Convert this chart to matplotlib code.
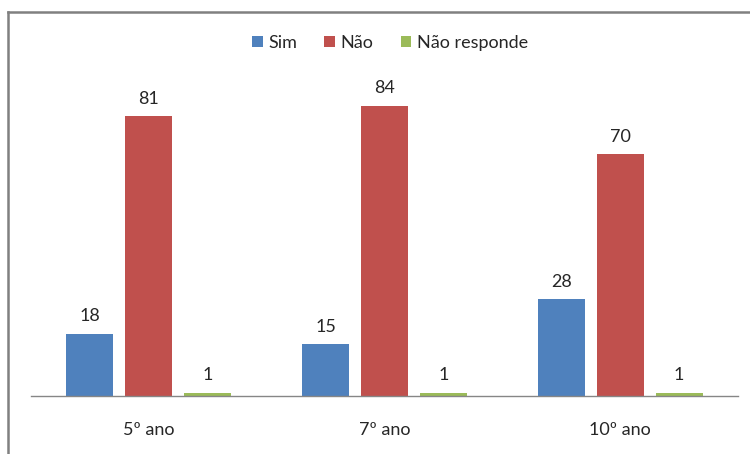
import matplotlib.pyplot as plt
from matplotlib.lines import Line2D
import numpy as np

plt.rcParams['font.family'] = ['Lato', 'DejaVu Sans']

grupos = ['5º ano', '7º ano', '10º ano']
sim = [18, 15, 28]
nao = [81, 84, 70]
nao_responde = [1, 1, 1]

series = [('Sim', sim, '#4F81BD'),
          ('Não', nao, '#C0504D'),
          ('Não responde', nao_responde, '#9BBB59')]

fig = plt.figure(figsize=(7.5, 4.54), dpi=100)
ax = fig.add_axes([0.0413, 0.1278, 0.9427, 0.76])

x = np.arange(len(grupos))
largura = 0.2
for i, (nome, valores, cor) in enumerate(series):
    pos = x + (i - 1) * 0.25
    barras = ax.bar(pos, valores, largura, color=cor, label=nome)
    for b, v in zip(barras, valores):
        ax.annotate(str(v), (b.get_x() + b.get_width() / 2, b.get_height()),
                    xytext=(0, 7), textcoords='offset points',
                    ha='center', va='bottom', fontsize=13, color='#262626')

ax.set_xlim(-0.5, 2.5)
ax.set_ylim(0, 100)
ax.set_xticks(x)
ax.set_xticklabels(grupos, fontsize=13, color='#262626')
ax.tick_params(axis='x', length=0, pad=19)
ax.set_yticks([])
for s in ['top', 'right', 'left']:
    ax.spines[s].set_visible(False)
ax.spines['bottom'].set_color('#868686')
ax.spines['bottom'].set_linewidth(1)

ax.legend(loc='center', bbox_to_anchor=(0.52, 0.905), bbox_transform=fig.transFigure,
          ncol=3, frameon=False, fontsize=13, handlelength=0.6, handleheight=0.6,
          handletextpad=0.3, columnspacing=1.5, labelcolor='#262626')

# moldura cinza do gráfico
W, H = 750, 454
fig.add_artist(Line2D([8 / W, 8 / W], [0, 1 - 12 / H], transform=fig.transFigure,
                      color='#808080', lw=1.8))
fig.add_artist(Line2D([8 / W, 1], [1 - 12 / H, 1 - 12 / H], transform=fig.transFigure,
                      color='#808080', lw=1.8))

fig.savefig('out.png', dpi=100)
